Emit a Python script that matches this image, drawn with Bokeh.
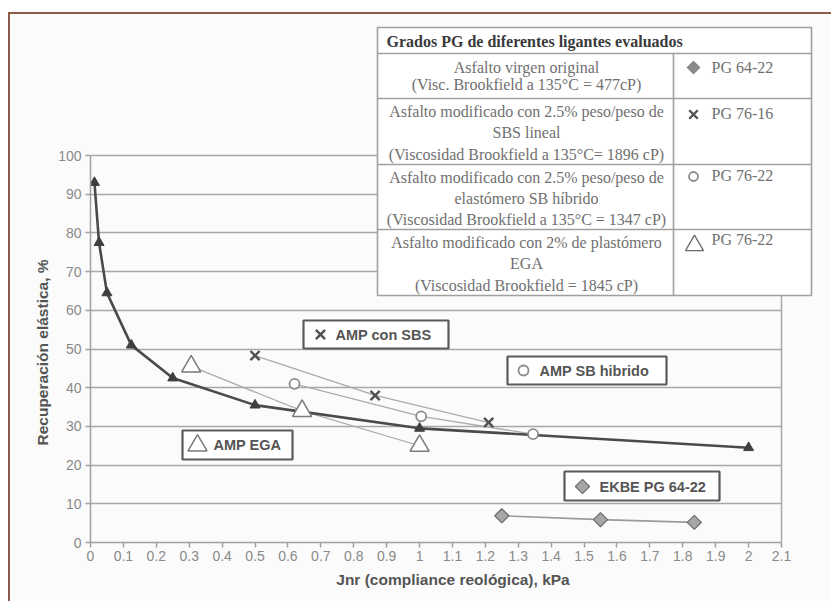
import math
from bokeh.plotting import figure
from bokeh.models import Range1d, FixedTicker, Title
from bokeh.core.properties import value
from bokeh.embed import file_html
from bokeh.resources import INLINE

# ---------------- data ----------------
base_jnr = [0.012, 0.026, 0.05, 0.124, 0.25, 0.5, 1.0, 2.0]
base_rec = [93.0, 77.5, 64.5, 51.0, 42.5, 35.5, 29.5, 24.5]

sbs_jnr = [0.5, 0.865, 1.21]
sbs_rec = [48.3, 38.0, 31.0]

sbh_jnr = [0.62, 1.005, 1.345]
sbh_rec = [41.0, 32.6, 28.0]

ega_jnr = [0.306, 0.643, 1.0]
ega_rec = [45.5, 34.0, 25.0]

ekbe_jnr = [1.25, 1.55, 1.835]
ekbe_rec = [6.9, 5.9, 5.2]

x_ticks = [round(0.1 * i, 1) for i in range(22)]
y_ticks = [0, 10, 20, 30, 40, 50, 60, 70, 80, 90, 100]

x_title = "Jnr (compliance reológica), kPa"
y_title = "Recuperación elástica, %"

table_title = "Grados PG de diferentes ligantes evaluados"
table_desc = [
    ["Asfalto virgen original", "(Visc. Brookfield a 135°C = 477cP)"],
    ["Asfalto modificado con 2.5% peso/peso de", "SBS lineal",
     "(Viscosidad Brookfield a 135°C= 1896 cP)"],
    ["Asfalto modificado con 2.5% peso/peso de", "elastómero SB híbrido",
     "(Viscosidad Brookfield a 135°C = 1347 cP)"],
    ["Asfalto modificado con 2% de plastómero", "EGA",
     "(Viscosidad Brookfield = 1845 cP)"],
]
table_grades = ["PG 64-22", "PG 76-16", "PG 76-22", "PG 76-22"]
box_labels = ["AMP con SBS", "AMP SB hibrido", "AMP EGA", "EKBE PG 64-22"]

# ---------------- layout helpers (page pixels -> data) ----------------
OX, OY = 10, 14            # canvas offset on the page (margin + brown border)
W, H = 833 - OX, 603 - OY  # canvas size
L, R, T, B = 90, 815, 20, 542  # frame edges in page pixels
XU = 329.05   # px per unit of x
YU = 3.87     # px per unit of y


def X(px):
    return (px - L) / XU


def Y(py):
    return (B - py) / YU


p = figure(width=W, height=H, title=None,
           x_range=Range1d(0, X(R)), y_range=Range1d(0, Y(T)),
           output_backend="svg", toolbar_location=None,
           min_border_left=L - OX, min_border_right=W - (R - OX),
           min_border_top=T - OY, min_border_bottom=H - (B - OY),
           background_fill_color="#fbfbfb", border_fill_color="#fbfbfb",
           outline_line_color=None)
p.styles = {"margin-left": "8px", "margin-top": "12px",
            "border-left": "2px solid #8b5a48", "border-top": "2px solid #8b5a48"}

# ---------------- axes ----------------
p.xaxis.ticker = FixedTicker(ticks=x_ticks)
p.xaxis.bounds = (0, 2.1)
p.xaxis.major_label_overrides = {t: f"{t:g}" for t in x_ticks}
p.yaxis.ticker = FixedTicker(ticks=y_ticks)
p.yaxis.bounds = (0, 100)
for ax in (p.xaxis[0], p.yaxis[0]):
    ax.axis_line_color = "#a0a0a0"
    ax.axis_line_width = 1.5
    ax.major_tick_line_color = "#a0a0a0"
    ax.major_tick_line_width = 1.5
    ax.major_tick_out = 5
    ax.major_tick_in = 0
    ax.minor_tick_line_color = None
    ax.major_label_text_color = "#8a8a8a"
    ax.major_label_text_font = "Liberation Sans"
    ax.major_label_text_font_size = "14px"
p.xaxis.major_label_standoff = 3
p.yaxis.major_label_standoff = 4

p.xgrid.visible = False
p.ygrid.ticker = FixedTicker(ticks=y_ticks[1:])
p.ygrid.grid_line_color = "#a8a8a8"
p.ygrid.grid_line_width = 1.5
p.ygrid.cross_bounds = (0, 2.1)

# right edge of plot area
p.segment(x0=[2.1], y0=[0], x1=[2.1], y1=[100], line_color="#a8a8a8", line_width=1.5)

# ---------------- axis titles ----------------
p.add_layout(Title(text=y_title, align="left", offset=97, text_font="Liberation Sans",
                   text_font_style="bold", text_font_size="15.5px", text_color="#555555"), "left")
p.add_layout(Title(text=x_title, align="center", text_font="Liberation Sans",
                   text_font_style="bold", text_font_size="15.5px", text_color="#555555"), "below")

# ---------------- series ----------------
thin = "#ababab"
p.line(sbs_jnr, sbs_rec, line_color=thin, line_width=1.3)
p.line(sbh_jnr, sbh_rec, line_color=thin, line_width=1.3)
p.line(ega_jnr, ega_rec, line_color=thin, line_width=1.3)
p.line(ekbe_jnr, ekbe_rec, line_color="#9a9a9a", line_width=1.6)
p.line(base_jnr, base_rec, line_color="#4a4a4a", line_width=2.6)

p.scatter(base_jnr, base_rec, marker="triangle", size=10, fill_color="#3f3f3f", line_color="#3f3f3f")
p.scatter(sbs_jnr, sbs_rec, marker="x", size=13, line_color="#505050", line_width=2.4)
p.scatter(sbh_jnr, sbh_rec, marker="circle", size=10, fill_color="white", line_color="#8c8c8c", line_width=1.8)
p.scatter(ega_jnr, ega_rec, marker="triangle", size=19, fill_color="white", line_color="#7a7a7a", line_width=1.5)
p.scatter(ekbe_jnr, ekbe_rec, marker="square", angle=math.pi / 4, size=10,
          fill_color="#a6a6a6", line_color="#6b6b6b", line_width=1.2)

# ---------------- annotation boxes ----------------
boxes = [(303, 448, 320, 348), (507, 666, 356, 384), (182, 292, 430, 459), (564, 719, 471, 500)]
p.quad(left=[X(b[0]) for b in boxes], right=[X(b[1]) for b in boxes],
       top=[Y(b[2]) for b in boxes], bottom=[Y(b[3]) for b in boxes],
       fill_color="white", line_color="#5a5a5a", line_width=2.2)
p.scatter([X(320)], [Y(334)], marker="x", size=13, line_color="#505050", line_width=2.4)
p.scatter([X(523)], [Y(370)], marker="circle", size=10, fill_color="white", line_color="#8c8c8c", line_width=1.8)
p.scatter([X(197)], [Y(445)], marker="triangle", size=19, fill_color="white", line_color="#7a7a7a", line_width=1.5)
p.scatter([X(582)], [Y(486)], marker="square", angle=math.pi / 4, size=10,
          fill_color="#a6a6a6", line_color="#6b6b6b", line_width=1.2)
p.text(x=[X(335), X(539), X(213), X(599)], y=[Y(334), Y(370), Y(444), Y(486)],
       text=[box_labels[0], box_labels[1], box_labels[2], box_labels[3]],
       text_font=value("Liberation Sans"), text_font_style="bold", text_font_size="14.5px",
       text_color="#555555", text_align="left", text_baseline="middle")

# ---------------- table ----------------
tl, tr, tt, tb, tc = 377, 811, 27, 295, 673
rows = [53, 98, 164, 229]
p.quad(left=[X(tl)], right=[X(tr)], top=[Y(tt)], bottom=[Y(tb)],
       fill_color="white", line_color="#a0a0a0", line_width=1.6)
p.segment(x0=[X(tl)] * 4, x1=[X(tr)] * 4, y0=[Y(r) for r in rows], y1=[Y(r) for r in rows],
          line_color="#a0a0a0", line_width=1.6)
p.segment(x0=[X(tc)], x1=[X(tc)], y0=[Y(rows[0])], y1=[Y(tb)], line_color="#a0a0a0", line_width=1.6)

p.text(x=[X(386)], y=[Y(41)], text=[table_title], text_font=value("Liberation Serif"),
       text_font_style="bold", text_font_size="16px", text_color="#3a3a3a",
       text_align="left", text_baseline="middle")

line_pos = [[67, 84], [111, 132, 153.5], [176.5, 198, 219], [241.5, 263, 285]]
tx, ty, tt_ = [], [], []
for desc, ys in zip(table_desc, line_pos):
    for s, yy in zip(desc, ys):
        tx.append(X(526))
        ty.append(Y(yy))
        tt_.append(s)
p.text(x=tx, y=ty, text=tt_, text_font=value("Liberation Serif"), text_font_size="16px",
       text_color="#707070", text_align="center", text_baseline="middle")

grade_y = [67, 113, 175, 239]
p.text(x=[X(711)] * 4, y=[Y(v) for v in grade_y], text=table_grades,
       text_font=value("Liberation Serif"), text_font_size="16px", text_color="#707070",
       text_align="left", text_baseline="middle")
p.scatter([X(693)], [Y(67)], marker="square", angle=math.pi / 4, size=9,
          fill_color="#8a8a8a", line_color="#707070", line_width=1)
p.scatter([X(693)], [Y(114)], marker="x", size=12, line_color="#505050", line_width=2.4)
p.scatter([X(693)], [Y(176)], marker="circle", size=9, fill_color="white", line_color="#8c8c8c", line_width=1.8)
p.scatter([X(694)], [Y(245)], marker="triangle", size=18, fill_color="white", line_color="#6a6a6a", line_width=1.3)

open("out.html", "w").write(file_html(p, INLINE))
